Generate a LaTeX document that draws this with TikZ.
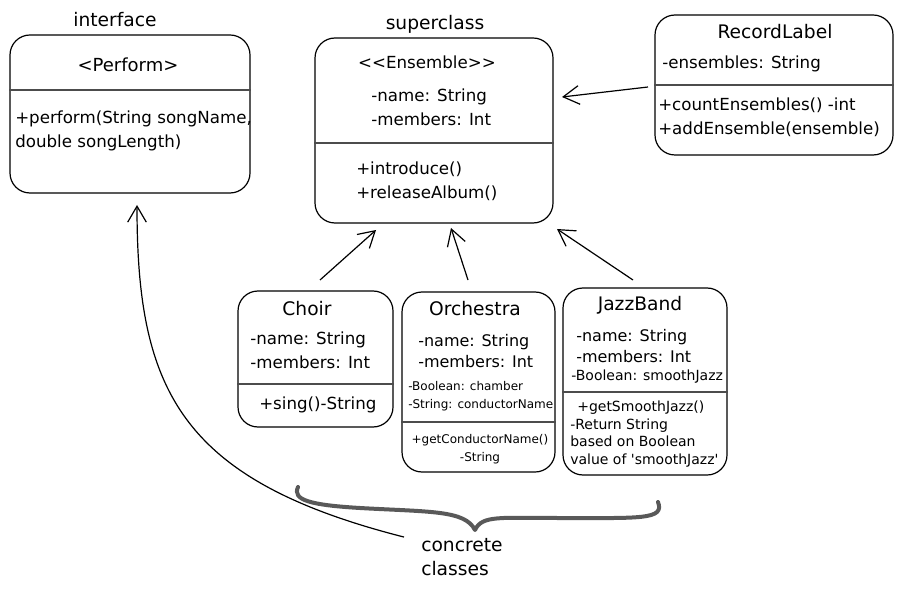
\documentclass[tikz,border=0pt]{standalone}
\usepackage{fontspec}
\setmainfont{DejaVu Sans}
\usetikzlibrary{arrows.meta}
\newcommand{\txtmain}{\fontsize{12.5}{18}\selectfont}
\newcommand{\txthead}{\fontsize{13.5}{18}\selectfont}
\newcommand{\txttitle}{\fontsize{14}{18}\selectfont}
\newcommand{\txtmid}{\fontsize{12}{16}\selectfont}
\newcommand{\txtsmall}{\fontsize{9}{13.5}\selectfont}
\newcommand{\txtnote}{\fontsize{10.5}{13}\selectfont}

\begin{document}
\begin{tikzpicture}[x=0.75pt,y=0.75pt,yscale=-1,xscale=1,
  classbox/.style={draw, rounded corners=15pt, line width=0.9pt, inner sep=0pt},
  divider/.style={draw=black!70, line width=1.5pt},
  txt/.style={inner sep=0.75pt, align=left},
  genarrow/.style={-{Straight Barb[length=12pt,width=14pt]}, line width=0.9pt},
  bracestroke/.style={draw=black!65, line width=3pt, line cap=round, line join=round}]
\useasboundingbox (0,0) rectangle (905,591);

%Shape: Rounded Rect [interface]
\node [classbox, minimum width=180pt, minimum height=118.5pt] (perform) at (130,114) {};
\draw [divider] (perform.west |- 0,90) -- (perform.east |- 0,90) ;
% Text Node
\node [txt, font=\txttitle] (ifacelbl) at (115,20) {interface};
\node [txt, font=\txthead] (performname) at (128,65) {<Perform>};
\node [txt, font=\txtmain, anchor=west] (performops) at (14,131) {+perform(String songName,\\double songLength)};

%Shape: Rounded Rect [superclass]
\node [classbox, minimum width=178.5pt, minimum height=138.75pt] (ensemble) at (434,130.5) {};
\draw [divider] (ensemble.west |- 0,143) -- (ensemble.east |- 0,143) ;
% Text Node
\node [txt, font=\txttitle] (superlbl) at (435,24) {superclass};
\node [txt, font=\txtmain] (ensemblename) at (427,62) {<{}<Ensemble>{}>};
\node [txt, font=\txtmain, anchor=west] (ensembleattr) at (370,107) {-name: String\\-members: Int};
\node [txt, font=\txtmain, anchor=west] (ensembleops) at (355,181) {+introduce()\\+releaseAlbum()};

%Shape: Rounded Rect [record label]
\node [classbox, minimum width=178.5pt, minimum height=105pt] (record) at (774,85) {};
\draw [divider] (record.west |- 0,85) -- (record.east |- 0,85) ;
% Text Node
\node [txt, font=\txttitle] (recordname) at (775,32) {RecordLabel};
\node [txt, font=\txtmain, anchor=west] (recordattr) at (661,64) {-ensembles: String};
\node [txt, font=\txtmain, anchor=west] (recordops) at (657,117) {+countEnsembles() -int\\+addEnsemble(ensemble)};

%Shape: Rounded Rect [choir]
\node [classbox, minimum width=116.25pt, minimum height=102pt] (choir) at (315.5,359) {};
\draw [divider] (choir.west |- 0,384) -- (choir.east |- 0,384) ;
% Text Node
\node [txt, font=\txttitle] (choirname) at (307,309) {Choir};
\node [txt, font=\txtmain, anchor=west] (choirattr) at (249,350) {-name: String\\-members: Int};
\node [txt, font=\txtmain, anchor=west] (choirops) at (258,405) {+sing()-String};

%Shape: Rounded Rect [orchestra]
\node [classbox, minimum width=114.75pt, minimum height=135pt] (orchestra) at (478.5,382) {};
\draw [divider] (orchestra.west |- 0,422) -- (orchestra.east |- 0,422) ;
% Text Node
\node [txt, font=\txttitle] (orchestraname) at (475,309) {Orchestra};
\node [txt, font=\txtmid, anchor=west] (orchestraattr) at (417,351) {-name: String\\-members: Int};
\node [txt, font=\txtsmall, anchor=west] (orchestraextra) at (407,396) {-Boolean: chamber\\-String: conductorName};
\node [txt, font=\txtsmall, align=center] (orchestraops) at (480,449) {+getConductorName()\\-String};

%Shape: Rounded Rect [jazz band]
\node [classbox, minimum width=123pt, minimum height=140.25pt] (jazz) at (645,381.5) {};
\draw [divider] (jazz.west |- 0,392) -- (jazz.east |- 0,392) ;
% Text Node
\node [txt, font=\txttitle] (jazzname) at (640,305) {JazzBand};
\node [txt, font=\txtmid, anchor=west] (jazzattr) at (575,346) {-name: String\\-members: Int};
\node [txt, font=\txtnote, anchor=west] (jazzextra) at (570,377) {-Boolean: smoothJazz};
\node [txt, font=\txtnote, anchor=west] (jazzops) at (576,408) {+getSmoothJazz()};
\node [txt, font=\txtnote, anchor=west] (jazznote) at (569,443) {-Return String\\based on Boolean\\value of \textquotesingle smoothJazz\textquotesingle};

% Text Node
\node [txt, font=\txttitle, anchor=west] (concrete) at (420,557) {concrete\\classes};

%Arrow ends
\coordinate (recordtail) at (648,87);
\coordinate (recordtip) at (562,97);
\coordinate (choirtail) at (320,280);
\coordinate (choirtip) at (376,230);
\coordinate (orchestratail) at (468,280);
\coordinate (orchestratip) at (451,228);
\coordinate (jazztail) at (633,280);
\coordinate (jazztip) at (557,229);
\coordinate (performtip) at (137,205);

%Straight Lines
\draw [genarrow] (recordtail) -- (recordtip) ;
\draw [genarrow] (choirtail) -- (choirtip) ;
\draw [genarrow] (orchestratail) -- (orchestratip) ;
\draw [genarrow] (jazztail) -- (jazztip) ;
%Curve Lines
\draw [genarrow] ([xshift=-12pt]concrete.north west) .. controls (180,480) and (137,390) .. (performtip) ;

%Shape: Brace
\draw [bracestroke] (298,487) .. controls (292,500) and (310,505) .. (360,508) .. controls (430,512) and (465,510) .. (475,530) .. controls (482,515) and (500,518) .. (560,518) .. controls (640,518) and (665,520) .. (658,502) ;

\end{tikzpicture}
\end{document}
